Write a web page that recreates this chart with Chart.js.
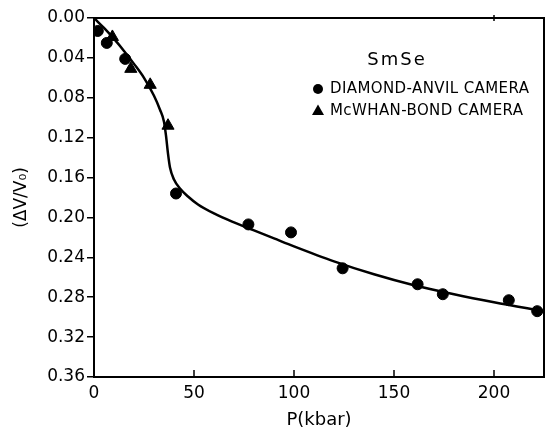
<!DOCTYPE html>
<html>
<head>
<meta charset="utf-8">
<script src="https://cdn.jsdelivr.net/npm/chart.js@4"></script>
<style>
  html, body { margin: 0; padding: 0; background: #fff; }
  #wrap { width: 545px; height: 434px; }
</style>
</head>
<body>
<div id="wrap"><canvas id="chart" width="545" height="434"></canvas></div>
<script>
// measured values (P in kbar, dV/V0)
const diamondP = [1.9, 6.4, 15.6, 41, 77.2, 98.5, 124.3, 161.8, 174.4, 207.4, 221.6];
const diamondV = [0.013, 0.025, 0.041, 0.176, 0.207, 0.215, 0.251, 0.267, 0.277, 0.283, 0.294];

const bondP = [9.2, 18.4, 28.1, 37];
const bondV = [0.019, 0.051, 0.067, 0.108];

// fitted curve
const curveP = [0, 5, 10, 15, 20, 25, 30, 33, 35, 36, 37, 38, 40, 43, 47, 52, 60, 70, 80, 90, 100, 120, 140, 160, 180, 200, 225];
const curveV = [0, 0.010, 0.021, 0.033, 0.046, 0.060, 0.078, 0.092, 0.104, 0.118, 0.136, 0.150, 0.162, 0.171, 0.179, 0.187, 0.196, 0.205, 0.213, 0.221, 0.229, 0.244, 0.257, 0.268, 0.277, 0.285, 0.294];

const xTicks = [0, 50, 100, 150, 200];
const yTicks = [0, 0.04, 0.08, 0.12, 0.16, 0.20, 0.24, 0.28, 0.32, 0.36];

const legendTitle = "SmSe";
const legendLabels = ["DIAMOND-ANVIL CAMERA", "McWHAN-BOND CAMERA"];

const FONT = "'DejaVu Sans', sans-serif";

function toPoints(xs, ys) {
    return xs.map((x, i) => ({ x: x, y: ys[i] }));
}

// frame, inward ticks on the bottom axis and the legend
const extras = {
    id: "extras",
    afterDraw(chart) {
        const ctx = chart.ctx;
        const a = chart.chartArea;
        const xs = chart.scales.x;
        ctx.save();
        ctx.strokeStyle = "#000";
        ctx.lineWidth = 2;
        ctx.beginPath();
        ctx.moveTo(a.left, a.top);
        ctx.lineTo(a.right, a.top);
        ctx.lineTo(a.right, a.bottom);
        ctx.stroke();

        ctx.lineWidth = 1.5;
        xTicks.forEach(v => {
            if (v === 0) return;
            const px = xs.getPixelForValue(v);
            ctx.beginPath();
            ctx.moveTo(px, a.bottom);
            ctx.lineTo(px, a.bottom - 7);
            ctx.stroke();
        });
        // small tick on the top edge
        const p200 = xs.getPixelForValue(200);
        ctx.beginPath();
        ctx.moveTo(p200, a.top - 3);
        ctx.lineTo(p200, a.top + 3);
        ctx.stroke();

        // legend
        ctx.fillStyle = "#000";
        ctx.textBaseline = "middle";
        ctx.font = "18px " + FONT;
        ctx.textAlign = "center";
        ctx.letterSpacing = "2px";
        ctx.fillText(legendTitle, 397, 60);

        ctx.font = "15px " + FONT;
        ctx.letterSpacing = "0.4px";
        ctx.textAlign = "left";
        ctx.fillText(legendLabels[0], 330, 89);
        ctx.fillText(legendLabels[1], 330, 111);

        ctx.beginPath();
        ctx.arc(318, 89, 5, 0, Math.PI * 2);
        ctx.fill();
        ctx.beginPath();
        ctx.moveTo(318, 104.5);
        ctx.lineTo(324, 115);
        ctx.lineTo(312, 115);
        ctx.closePath();
        ctx.fill();
        ctx.restore();
    }
};

new Chart(document.getElementById("chart"), {
    type: "scatter",
    data: {
        datasets: [
            {
                label: legendLabels[0],
                data: toPoints(diamondP, diamondV),
                pointStyle: "circle",
                pointRadius: 5.5,
                backgroundColor: "#000",
                borderColor: "#000"
            },
            {
                label: legendLabels[1],
                data: toPoints(bondP, bondV),
                pointStyle: "triangle",
                pointRadius: 7,
                backgroundColor: "#000",
                borderColor: "#000"
            },
            {
                type: "line",
                label: "fit",
                data: toPoints(curveP, curveV),
                borderColor: "#000",
                borderWidth: 2.5,
                pointRadius: 0,
                fill: false,
                cubicInterpolationMode: "monotone"
            }
        ]
    },
    options: {
        responsive: false,
        animation: false,
        layout: { autoPadding: false, padding: { top: 18, right: 1, left: 0, bottom: 0 } },
        plugins: {
            legend: { display: false },
            tooltip: { enabled: false }
        },
        scales: {
            x: {
                type: "linear",
                min: 0,
                max: 225,
                afterBuildTicks: s => { s.ticks = xTicks.map(v => ({ value: v })); },
                afterFit: s => { s.height = 57; s.paddingLeft = 0; s.paddingRight = 0; },
                grid: { drawOnChartArea: false, drawTicks: false },
                border: { display: true, color: "#000", width: 2 },
                ticks: {
                    color: "#000",
                    padding: 6,
                    maxRotation: 0,
                    font: { family: FONT, size: 17 },
                    callback: v => String(v)
                },
                title: {
                    display: true,
                    text: "P(kbar)",
                    color: "#000",
                    font: { family: FONT, size: 18 },
                    padding: { top: 0, bottom: 3 }
                }
            },
            y: {
                type: "linear",
                reverse: true,
                min: 0,
                max: 0.36,
                afterBuildTicks: s => { s.ticks = yTicks.map(v => ({ value: v })); },
                afterFit: s => { s.width = 94; },
                grid: { drawOnChartArea: false, drawTicks: true, tickLength: 7, color: "#000", lineWidth: 1.5 },
                border: { display: true, color: "#000", width: 2 },
                ticks: {
                    color: "#000",
                    padding: 2,
                    font: { family: FONT, size: 17 },
                    callback: v => Number(v).toFixed(2)
                },
                title: {
                    display: true,
                    text: "(ΔV/V₀)",
                    color: "#000",
                    font: { family: FONT, size: 17 },
                    padding: { top: 11, bottom: 0 }
                }
            }
        }
    },
    plugins: [extras]
});
</script>
</body>
</html>
